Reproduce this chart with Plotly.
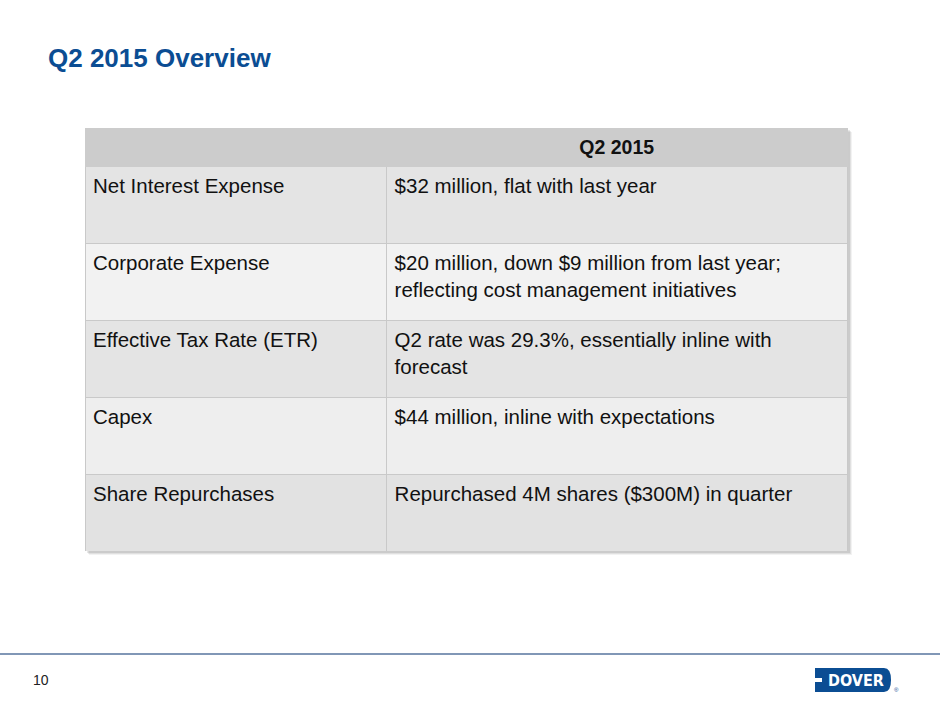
import plotly.graph_objects as go

W, H = 940, 705

title_text = "Q2 2015 Overview"
header_labels = ["", "<b>Q2 2015</b>"]
row_labels = [
    "Net Interest Expense",
    "Corporate Expense",
    "Effective Tax Rate (ETR)",
    "Capex",
    "Share Repurchases",
]
row_details = [
    "$32 million, flat with last year",
    "$20 million, down $9 million from last year;<br>reflecting cost management initiatives",
    "Q2 rate was 29.3%, essentially inline with<br>forecast",
    "$44 million, inline with expectations",
    "Repurchased 4M shares ($300M) in quarter",
]
row_fills = ["#e4e4e4", "#f2f2f2", "#e4e4e4", "#eeeeee", "#e2e2e2"]
page_number = "10"
logo_text = "DOVER"


def px(x):
    return x / W


def py(y):
    return 1 - y / H


def two_line(t):
    # keep every cell as a two-line block so all rows share the same text offset
    return t if "<br>" in t else t + "<br> "


FONT = "Liberation Sans, Arial, Helvetica, sans-serif"

# table geometry (pixels)
tx0, tx1 = 85, 848
ty0 = 128
header_h = 38
row_h = 77
ty1 = ty0 + header_h + row_h * len(row_labels)

fig = go.Figure()

fig.add_trace(go.Table(
    domain=dict(x=[px(tx0), px(tx1)], y=[py(ty1), py(ty0)]),
    columnwidth=[302, 461],
    header=dict(
        values=header_labels,
        fill_color="#cccccc",
        line=dict(color="#cccccc", width=1),
        align=["left", "center"],
        font=dict(family=FONT, size=19.5, color="#111111"),
        height=header_h,
    ),
    cells=dict(
        values=[[two_line(t) for t in row_labels], [two_line(t) for t in row_details]],
        fill_color=[row_fills, row_fills],
        line=dict(color="#c9c9c9", width=1),
        align=["left", "left"],
        font=dict(family=FONT, size=20.5, color="#111111"),
        height=row_h,
    ),
))

shapes = []
# subtle drop shadow
for off, op in [(4, 0.05), (3, 0.07), (2, 0.09)]:
    shapes.append(dict(type="rect", xref="paper", yref="paper", layer="below",
                       x0=px(tx0 + off), x1=px(tx1 + off), y0=py(ty1 + off), y1=py(ty0 + off),
                       line=dict(width=0), fillcolor=f"rgba(0,0,0,{op})"))
# footer rule
shapes.append(dict(type="line", xref="paper", yref="paper",
                   x0=0, x1=1, y0=py(654), y1=py(654),
                   line=dict(color="#8197b6", width=2)))
# logo block
shapes.append(dict(type="path", xref="paper", yref="paper",
                   path=(f"M {px(815)},{py(668)} L {px(884)},{py(668)} "
                         f"Q {px(891)},{py(668)} {px(891)},{py(680)} "
                         f"Q {px(891)},{py(692)} {px(884)},{py(692)} "
                         f"L {px(815)},{py(692)} Z"),
                   fillcolor="#0b4d93", line=dict(width=0)))
shapes.append(dict(type="rect", xref="paper", yref="paper",
                   x0=px(814), x1=px(822), y0=py(682), y1=py(678),
                   fillcolor="white", line=dict(width=0)))

annotations = [
    dict(text=f"<b>{title_text}</b>", xref="paper", yref="paper",
         x=px(46), y=py(58), xanchor="left", yanchor="middle", showarrow=False,
         font=dict(family=FONT, size=26, color="#0b4d93")),
    dict(text=page_number, xref="paper", yref="paper",
         x=px(31), y=py(680), xanchor="left", yanchor="middle", showarrow=False,
         font=dict(family=FONT, size=14, color="#222222")),
    dict(text=f"<b>{logo_text}</b>", xref="paper", yref="paper",
         x=px(856), y=py(680.5), xanchor="center", yanchor="middle", showarrow=False,
         font=dict(family="Liberation Sans Narrow, DejaVu Sans Condensed, Arial Narrow, sans-serif",
                   size=16, color="white")),
    dict(text="®", xref="paper", yref="paper",
         x=px(892), y=py(690), xanchor="left", yanchor="middle", showarrow=False,
         font=dict(family=FONT, size=6, color="#0b4d93")),
]

fig.update_layout(
    width=W, height=H,
    margin=dict(l=0, r=0, t=0, b=0),
    paper_bgcolor="white", plot_bgcolor="white",
    shapes=shapes, annotations=annotations,
    showlegend=False,
)

fig.write_html("out.html", config={"displayModeBar": False},
               post_script="document.body.style.margin='0';")
